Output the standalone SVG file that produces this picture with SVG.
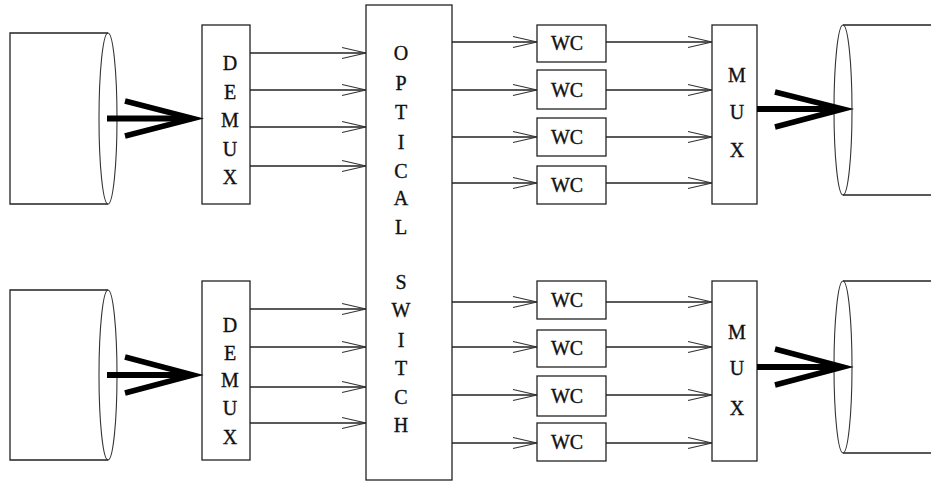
<svg xmlns="http://www.w3.org/2000/svg" width="931" height="482" viewBox="0 0 931 482">
<defs>
<marker id="arr" markerUnits="userSpaceOnUse" markerWidth="30" markerHeight="14" refX="24" refY="6" orient="auto" overflow="visible">
<path d="M0,0.5 L24,6 L0,11.5" fill="none" stroke="#333" stroke-width="1.2"/>
</marker>
</defs>
<style>
.box{fill:#fff;stroke:#222;stroke-width:1.3}
.cyl{fill:none;stroke:#222;stroke-width:1.3}
.ell{fill:none;stroke:#333;stroke-width:1.1}
.t{font-family:"Liberation Serif",serif;font-size:20px;fill:#111;stroke:#111;stroke-width:0.35;text-anchor:middle}
.ln{fill:none;stroke:#222;stroke-width:1.3;marker-end:url(#arr)}
.thick{fill:none;stroke:#000;stroke-width:6}
.head{fill:none;stroke:#000;stroke-width:5.5;stroke-linejoin:miter;stroke-miterlimit:20}
</style>

<g id="fiber-in-1">
<path class="cyl" d="M108,33 H10 V204 H108"/>
<ellipse class="ell" cx="108" cy="118.5" rx="9" ry="85.5"/>
</g>
<g id="fiber-in-2">
<path class="cyl" d="M108,290 H10 V460 H108"/>
<ellipse class="ell" cx="108" cy="375" rx="9" ry="85"/>
</g>
<g id="fiber-out-1">
<path class="cyl" d="M843,25 H935 M843,195 H935"/>
<ellipse class="ell" cx="843" cy="110" rx="9" ry="85"/>
</g>
<g id="fiber-out-2">
<path class="cyl" d="M843,281 H935 M843,453 H935"/>
<ellipse class="ell" cx="843" cy="367" rx="9" ry="86"/>
</g>

<g id="demux-1">
<rect class="box" x="202" y="25" width="48" height="179"/>
<text class="t" x="230" y="70">D</text>
<text class="t" x="230" y="99">E</text>
<text class="t" x="230" y="127">M</text>
<text class="t" x="230" y="156">U</text>
<text class="t" x="230" y="184">X</text>
</g>
<g id="demux-2">
<rect class="box" x="202" y="281" width="48" height="179"/>
<text class="t" x="230" y="332">D</text>
<text class="t" x="230" y="360">E</text>
<text class="t" x="230" y="387">M</text>
<text class="t" x="230" y="415">U</text>
<text class="t" x="230" y="444">X</text>
</g>

<g id="optical-switch">
<rect class="box" x="366" y="5" width="86" height="475"/>
<text class="t" x="401" y="60">O</text>
<text class="t" x="401" y="90">P</text>
<text class="t" x="401" y="119">T</text>
<text class="t" x="401" y="149">I</text>
<text class="t" x="401" y="178">C</text>
<text class="t" x="401" y="205">A</text>
<text class="t" x="401" y="234">L</text>
<text class="t" x="401" y="289">S</text>
<text class="t" x="401" y="317">W</text>
<text class="t" x="401" y="347">I</text>
<text class="t" x="401" y="375">T</text>
<text class="t" x="401" y="404">C</text>
<text class="t" x="401" y="432">H</text>
</g>

<g id="wc-1"><rect class="box" x="537" y="25" width="69" height="37"/><text class="t" x="567" y="50">WC</text></g>
<g id="wc-2"><rect class="box" x="537" y="70" width="69" height="39"/><text class="t" x="567" y="97">WC</text></g>
<g id="wc-3"><rect class="box" x="537" y="118" width="69" height="38"/><text class="t" x="567" y="144">WC</text></g>
<g id="wc-4"><rect class="box" x="537" y="166" width="69" height="38"/><text class="t" x="567" y="192">WC</text></g>
<g id="wc-5"><rect class="box" x="537" y="281" width="69" height="38"/><text class="t" x="567" y="307">WC</text></g>
<g id="wc-6"><rect class="box" x="537" y="330" width="69" height="37"/><text class="t" x="567" y="355">WC</text></g>
<g id="wc-7"><rect class="box" x="537" y="376" width="69" height="40"/><text class="t" x="567" y="403">WC</text></g>
<g id="wc-8"><rect class="box" x="537" y="423" width="69" height="38"/><text class="t" x="567" y="449">WC</text></g>

<g id="mux-1">
<rect class="box" x="712" y="25" width="45" height="179"/>
<text class="t" x="737" y="82">M</text>
<text class="t" x="737" y="119">U</text>
<text class="t" x="737" y="157">X</text>
</g>
<g id="mux-2">
<rect class="box" x="712" y="281" width="45" height="180"/>
<text class="t" x="737" y="339">M</text>
<text class="t" x="737" y="375">U</text>
<text class="t" x="737" y="415">X</text>
</g>

<g id="connectors">
<line class="thick" x1="107" y1="118.5" x2="190" y2="118.5"/>
<polyline class="head" points="125,101 193,118.5 125,136"/>
<line class="thick" x1="107" y1="375" x2="190" y2="375"/>
<polyline class="head" points="125,357 193,375 125,393"/>
<line class="thick" x1="757" y1="109" x2="840" y2="109"/>
<polyline class="head" points="775,92 843,109 775,127"/>
<line class="thick" x1="757" y1="367" x2="840" y2="367"/>
<polyline class="head" points="775,349 843,367 775,385"/>

<line class="ln" x1="250" y1="53" x2="366" y2="53"/>
<line class="ln" x1="250" y1="90" x2="366" y2="90"/>
<line class="ln" x1="250" y1="127" x2="366" y2="127"/>
<line class="ln" x1="250" y1="166" x2="366" y2="166"/>
<line class="ln" x1="250" y1="309" x2="366" y2="309"/>
<line class="ln" x1="250" y1="347" x2="366" y2="347"/>
<line class="ln" x1="250" y1="387" x2="366" y2="387"/>
<line class="ln" x1="250" y1="423" x2="366" y2="423"/>

<line class="ln" x1="452" y1="42" x2="537" y2="42"/>
<line class="ln" x1="452" y1="90" x2="537" y2="90"/>
<line class="ln" x1="452" y1="137" x2="537" y2="137"/>
<line class="ln" x1="452" y1="183" x2="537" y2="183"/>
<line class="ln" x1="452" y1="302" x2="537" y2="302"/>
<line class="ln" x1="452" y1="347" x2="537" y2="347"/>
<line class="ln" x1="452" y1="395" x2="537" y2="395"/>
<line class="ln" x1="452" y1="443" x2="537" y2="443"/>

<line class="ln" x1="606" y1="42" x2="712" y2="42"/>
<line class="ln" x1="606" y1="90" x2="712" y2="90"/>
<line class="ln" x1="606" y1="137" x2="712" y2="137"/>
<line class="ln" x1="606" y1="183" x2="712" y2="183"/>
<line class="ln" x1="606" y1="302" x2="712" y2="302"/>
<line class="ln" x1="606" y1="347" x2="712" y2="347"/>
<line class="ln" x1="606" y1="395" x2="712" y2="395"/>
<line class="ln" x1="606" y1="443" x2="712" y2="443"/>
</g>
</svg>
